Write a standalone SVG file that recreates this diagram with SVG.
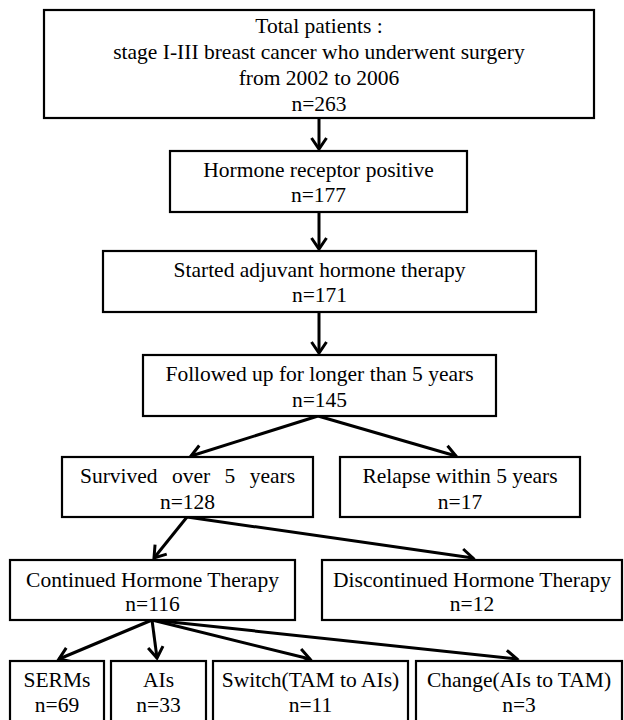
<svg xmlns="http://www.w3.org/2000/svg" width="624" height="720" viewBox="0 0 624 720">
<style>
.box{fill:#fff;stroke:#000;stroke-width:2.2}
.t{font-family:"Liberation Serif","Times New Roman",serif;font-size:21.5px;text-anchor:middle;fill:#000}
.c{stroke:#000;stroke-width:3;fill:none}
</style>
<defs>
<marker id="ah" markerUnits="userSpaceOnUse" markerWidth="30" markerHeight="30" refX="0" refY="0" viewBox="-15 -15 30 30" orient="auto" overflow="visible">
<path d="M-11,-7.5 L0,0 L-11,7.5" fill="none" stroke="#000" stroke-width="3" stroke-linejoin="miter"/>
</marker>
</defs>
<rect width="624" height="720" fill="#fff"/>
<g id="connectors">
<line class="c" x1="319" y1="118" x2="319" y2="149" marker-end="url(#ah)"/>
<line class="c" x1="319" y1="212" x2="319" y2="249" marker-end="url(#ah)"/>
<line class="c" x1="319" y1="312" x2="319" y2="353" marker-end="url(#ah)"/>
<line class="c" x1="318" y1="416" x2="191" y2="456" marker-end="url(#ah)"/>
<line class="c" x1="318" y1="416" x2="456" y2="456" marker-end="url(#ah)"/>
<line class="c" x1="187" y1="517" x2="154" y2="558" marker-end="url(#ah)"/>
<line class="c" x1="187" y1="517" x2="473" y2="558" marker-end="url(#ah)"/>
<line class="c" x1="152" y1="620" x2="59" y2="659" marker-end="url(#ah)"/>
<line class="c" x1="152" y1="620" x2="157" y2="658" marker-end="url(#ah)"/>
<line class="c" x1="152" y1="620" x2="310" y2="659" marker-end="url(#ah)"/>
<line class="c" x1="152" y1="620" x2="517" y2="659" marker-end="url(#ah)"/>
</g>
<g id="total">
<rect class="box" x="44" y="10" width="550" height="108"/>
<text class="t" x="319" y="33">Total patients :</text>
<text class="t" x="319" y="59">stage I-III breast cancer who underwent surgery</text>
<text class="t" x="319" y="85">from 2002 to 2006</text>
<text class="t" x="319" y="111">n=263</text>
</g>
<g id="hr">
<rect class="box" x="170" y="151" width="297" height="61"/>
<text class="t" x="318.5" y="177">Hormone receptor positive</text>
<text class="t" x="318.5" y="202">n=177</text>
</g>
<g id="started">
<rect class="box" x="103" y="251" width="433" height="61"/>
<text class="t" x="319.5" y="277">Started adjuvant hormone therapy</text>
<text class="t" x="319.5" y="302">n=171</text>
</g>
<g id="followed">
<rect class="box" x="143" y="355" width="353" height="61"/>
<text class="t" x="319.5" y="381">Followed up for longer than 5 years</text>
<text class="t" x="319.5" y="407">n=145</text>
</g>
<g id="survived">
<rect class="box" x="62" y="457" width="251" height="60"/>
<text class="t" x="187.5" y="483" word-spacing="9">Survived over 5 years</text>
<text class="t" x="187.5" y="509">n=128</text>
</g>
<g id="relapse">
<rect class="box" x="340" y="457" width="240" height="60"/>
<text class="t" x="460" y="483">Relapse within 5 years</text>
<text class="t" x="460" y="509">n=17</text>
</g>
<g id="continued">
<rect class="box" x="10" y="560" width="285" height="60"/>
<text class="t" x="152.5" y="587">Continued Hormone Therapy</text>
<text class="t" x="152.5" y="611">n=116</text>
</g>
<g id="discontinued">
<rect class="box" x="322" y="560" width="300" height="60"/>
<text class="t" x="472" y="587">Discontinued Hormone Therapy</text>
<text class="t" x="472" y="611">n=12</text>
</g>
<g id="serms">
<rect class="box" x="10" y="661" width="94" height="70"/>
<text class="t" x="57" y="687">SERMs</text>
<text class="t" x="57" y="712">n=69</text>
</g>
<g id="ais">
<rect class="box" x="111" y="661" width="95" height="70"/>
<text class="t" x="158.5" y="687">AIs</text>
<text class="t" x="158.5" y="712">n=33</text>
</g>
<g id="switch">
<rect class="box" x="213" y="661" width="195" height="70"/>
<text class="t" x="310.5" y="687">Switch(TAM to AIs)</text>
<text class="t" x="310.5" y="712">n=11</text>
</g>
<g id="change">
<rect class="box" x="416" y="661" width="206" height="70"/>
<text class="t" x="519" y="687">Change(AIs to TAM)</text>
<text class="t" x="519" y="712">n=3</text>
</g>
</svg>
